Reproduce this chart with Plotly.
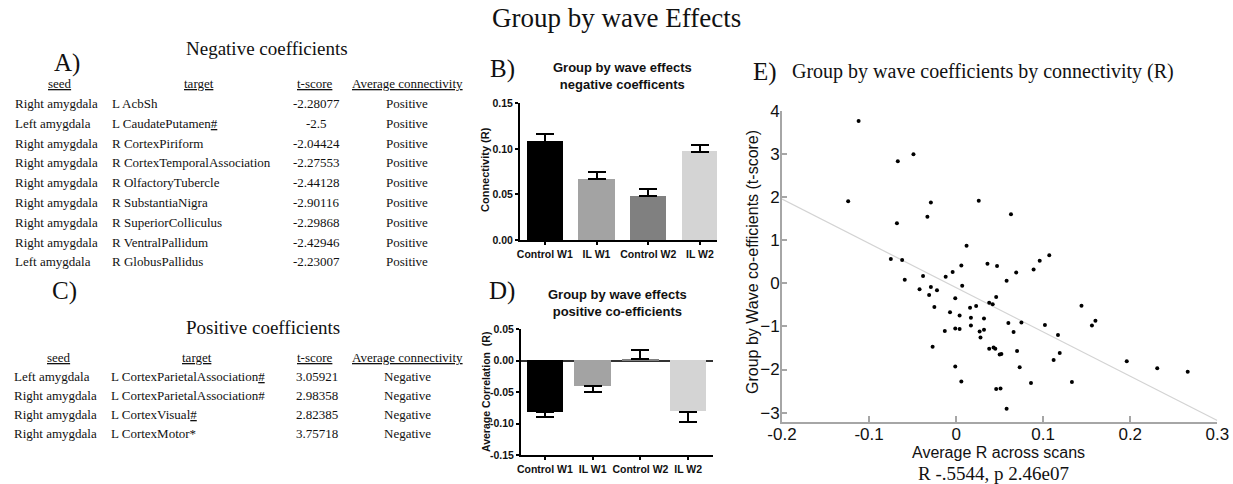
import plotly.graph_objects as go

W, H = 1233, 484
SERIF = "Liberation Serif, Times New Roman, serif"
SANS = "Liberation Sans, Arial, sans-serif"


def px(x):
    return x / W


def py(y):
    return 1 - y / H


# ---------------- data ----------------
groups = ["Control W1", "IL W1", "Control W2", "IL W2"]
neg_conn_mean = [0.108, 0.0666, 0.0483, 0.097]
neg_conn_sem = [0.0084, 0.0077, 0.0073, 0.0077]
pos_corr_mean = [-0.0822, -0.0403, 0.003, -0.0812]
pos_corr_sem = [0.0079, 0.0091, 0.0136, 0.0159]
bar_colors = ["#000000", "#a3a3a3", "#808080", "#d4d4d4"]

avg_r = [-0.124, -0.112, -0.067, -0.049, -0.068, -0.033, -0.029, 0.026, 0.063, -0.075,
         -0.062, -0.059, 0.012, -0.038, -0.012, -0.004, 0.006, 0.036, 0.047, 0.058,
         0.069, 0.089, 0.096, 0.107, 0.007, -0.042, -0.029, -0.031, -0.022, -0.025,
         -0.001, -0.007, 0.004, 0.016, 0.023, 0.017, 0.032, 0.038, 0.042, 0.046,
         0.017, -0.001, 0.004, -0.013, 0.027, 0.032, 0.028, 0.060, 0.075, 0.066,
         0.102, 0.117, 0.144, 0.156, 0.160, -0.027, 0.038, 0.043, 0.045, 0.050,
         0.052, 0.070, 0.112, 0.119, -0.001, 0.006, 0.073, 0.086, 0.133, 0.046,
         0.051, 0.058, 0.196, 0.231, 0.266]
t_score = [1.90, 3.76, 2.83, 2.99, 1.39, 1.54, 1.87, 1.91, 1.60, 0.56,
           0.54, 0.08, 0.87, 0.17, 0.15, 0.26, 0.41, 0.45, 0.40, 0.06,
           0.25, 0.32, 0.52, 0.65, -0.06, -0.14, -0.09, -0.27, -0.16, -0.55,
           -0.35, -0.67, -0.75, -0.57, -0.53, -0.80, -0.82, -0.45, -0.49, -0.32,
           -0.98, -1.05, -1.06, -1.11, -1.12, -1.08, -1.26, -0.92, -0.91, -1.13,
           -0.97, -1.20, -0.52, -0.98, -0.87, -1.47, -1.52, -1.49, -1.52, -1.65,
           -1.64, -1.57, -1.78, -1.62, -1.93, -2.28, -1.95, -2.31, -2.29, -2.45,
           -2.44, -2.91, -1.81, -1.97, -2.05]
fit_r = [-0.2, 0.3]
fit_t = [1.95, -3.18]

table_headers = ["seed", "target", "t-score", "Average connectivity"]

neg_seed = ["Right amygdala", "Left amygdala", "Right amygdala", "Right amygdala", "Right amygdala",
            "Right amygdala", "Right amygdala", "Right amygdala", "Left amygdala"]
neg_target = ["L AcbSh", "L CaudatePutamen#", "R CortexPiriform", "R CortexTemporalAssociation",
              "R OlfactoryTubercle", "R SubstantiaNigra", "R SuperiorColliculus",
              "R VentralPallidum", "R GlobusPallidus"]
neg_hash_underlined = [False, True, False, False, False, False, False, False, False]
neg_tscore = ["-2.28077", "-2.5", "-2.04424", "-2.27553", "-2.44128", "-2.90116",
              "-2.29868", "-2.42946", "-2.23007"]
neg_conn = ["Positive"] * 9

pos_seed = ["Left amygdala", "Right amygdala", "Right amygdala", "Right amygdala"]
pos_target = ["L CortexParietalAssociation#", "L CortexParietalAssociation#",
              "L CortexVisual#", "L CortexMotor*"]
pos_hash_underlined = [True, False, True, False]
pos_tscore = ["3.05921", "2.98358", "2.82385", "3.75718"]
pos_conn = ["Negative"] * 4

# ---------------- figure ----------------
fig = go.Figure()
annotations = []


def ann(text, x, y, size, family=SERIF, xanchor="center", yanchor="middle", angle=0, bold=False):
    annotations.append(dict(
        text=("<b>%s</b>" % text) if bold else text, x=px(x), y=py(y),
        xref="paper", yref="paper", showarrow=False, xanchor=xanchor, yanchor=yanchor,
        textangle=angle, font=dict(family=family, size=size, color="#111111"),
    ))


def ul(s):
    return '<span style="text-decoration:underline">%s</span>' % s


def target_text(t, flag):
    if flag and t.endswith("#"):
        return t[:-1] + ul("#")
    return t


# Main title
ann("Group by wave Effects", 616, 18, 27)

# Table A
ann("A)", 67, 63, 25)
ann("Negative coefficients", 267, 48, 19)
hdr_x = [60, 199, 315, 407]
for hx, h in zip(hdr_x, table_headers):
    ann(ul(h), hx, 84, 13)
for i in range(len(neg_seed)):
    y = 103.5 + i * 19.8
    ann(neg_seed[i], 13, y, 13, xanchor="left")
    ann(target_text(neg_target[i], neg_hash_underlined[i]), 110, y, 13, xanchor="left")
    ann(neg_tscore[i], 316, y, 13)
    ann(neg_conn[i], 407, y, 13)

# Table C
ann("C)", 64, 291, 25)
ann("Positive coefficients", 263, 327, 19)
hdr_x2 = [59, 197, 315, 407]
for hx, h in zip(hdr_x2, table_headers):
    ann(ul(h), hx, 357, 13)
for i in range(len(pos_seed)):
    y = 376 + i * 19
    ann(pos_seed[i], 12, y, 13, xanchor="left")
    ann(target_text(pos_target[i], pos_hash_underlined[i]), 109, y, 13, xanchor="left")
    ann(pos_tscore[i], 317, y, 13)
    ann(pos_conn[i], 407, y, 13)

# ---------- Panel B ----------
fig.add_trace(go.Bar(
    x=groups, y=neg_conn_mean, marker=dict(color=bar_colors, line=dict(width=0)),
    width=0.7, xaxis="x", yaxis="y",
    error_y=dict(type="data", array=neg_conn_sem, arrayminus=[0] * 4, symmetric=False,
                 color="#000000", thickness=2, width=9),
    showlegend=False,
))
ann("B)", 502, 69, 25)
ann("Group by wave effects<br>negative coefficents", 622, 76, 13, family=SANS, bold=True)
ann("Connectivity (R)", 485, 170, 11, family=SANS, angle=-90, bold=True)

# ---------- Panel D ----------
d_plus = [e if v >= 0 else 0 for v, e in zip(pos_corr_mean, pos_corr_sem)]
d_minus = [e if v < 0 else 0 for v, e in zip(pos_corr_mean, pos_corr_sem)]
fig.add_trace(go.Bar(
    x=groups, y=pos_corr_mean, marker=dict(color=bar_colors, line=dict(width=0)),
    width=0.76, xaxis="x2", yaxis="y2",
    error_y=dict(type="data", array=d_plus, arrayminus=d_minus, symmetric=False,
                 color="#000000", thickness=2, width=9),
    showlegend=False,
))
ann("D)", 502, 291, 25)
ann("Group by wave effects<br>positive co-efficients", 617, 303, 13, family=SANS, bold=True)
ann("Average Correlation  (R)", 486, 392, 10.5, family=SANS, angle=-90, bold=True)

# ---------- Panel E ----------
fig.add_trace(go.Scatter(
    x=fit_r, y=fit_t, mode="lines", line=dict(color="#d3d3d3", width=1.2),
    xaxis="x3", yaxis="y3", showlegend=False, hoverinfo="skip",
))
fig.add_trace(go.Scatter(
    x=avg_r, y=t_score, mode="markers", marker=dict(color="#000000", size=4),
    xaxis="x3", yaxis="y3", showlegend=False,
))
ann("E)", 765, 72, 25)
ann("Group by wave coefficients by connectivity (R)", 790, 72, 20, xanchor="left")
ann("Group by Wave co-efficients (t-score)", 752, 262, 16, family=SANS, angle=-90)
ann("Average R across scans", 998, 452, 16, family=SANS)
ann("R -.5544, p 2.46e07", 993, 473, 19)

bar_axis_common = dict(
    showline=True, linecolor="#000000", linewidth=2, ticks="outside", ticklen=3,
    tickwidth=1.5, tickcolor="#000000", showgrid=False, zeroline=False, automargin=False,
)
bar_xfont = dict(family=SANS, size=10.5, color="#111111")
bar_yfont = dict(family=SANS, size=10.5, color="#111111")

fig.update_layout(
    width=W, height=H, margin=dict(l=0, r=0, t=0, b=0, autoexpand=False),
    paper_bgcolor="white", plot_bgcolor="white",
    annotations=annotations,
    bargap=0,
    xaxis=dict(domain=[px(520), px(717)], anchor="y", range=[-0.48, 3.33],
               tickvals=groups, ticktext=["<b>%s</b>" % g for g in groups],
               tickfont=bar_xfont, **bar_axis_common),
    yaxis=dict(domain=[py(240), py(103.3)], anchor="x", range=[0, 0.15],
               tickvals=[0, 0.05, 0.10, 0.15],
               ticktext=["<b>0.00</b>", "<b>0.05</b>", "<b>0.10</b>", "<b>0.15</b>"],
               tickfont=bar_yfont, **bar_axis_common),
    xaxis2=dict(domain=[px(521), px(713)], anchor="y2", range=[-0.5, 3.52],
                tickvals=groups, ticktext=["<b>%s</b>" % g for g in groups],
                tickfont=bar_xfont, **bar_axis_common),
    yaxis2=dict(domain=[py(455), py(329.3)], anchor="x2", range=[-0.15, 0.05],
                tickvals=[-0.15, -0.10, -0.05, 0.0, 0.05],
                ticktext=["<b>-0.15</b>", "<b>-0.10</b>", "<b>-0.05</b>", "<b>0.00</b>", "<b>0.05</b>"],
                showline=True, linecolor="#000000", linewidth=2, ticks="outside", ticklen=3,
                tickwidth=1.5, tickcolor="#000000", showgrid=False, automargin=False,
                zeroline=True, zerolinecolor="#333333", zerolinewidth=2,
                tickfont=bar_yfont),
    xaxis3=dict(domain=[px(782), px(1217.3)], anchor="y3", range=[-0.2, 0.3],
                tickvals=[-0.2, -0.1, 0, 0.1, 0.2, 0.3], ticktext=["-0.2", "-0.1", "0", "0.1", "0.2", "0.3"],
                showline=True, linecolor="#a6a6a6", linewidth=2, ticks="inside", ticklen=6,
                tickcolor="#a6a6a6", tickwidth=1.5, showgrid=False, zeroline=False, automargin=False,
                ticklabelstandoff=-4,
                tickfont=dict(family=SANS, size=17, color="#111111")),
    yaxis3=dict(domain=[py(421.7), py(110.7)], anchor="x3", range=[-3.21, 4],
                tickvals=[-3, -2, -1, 0, 1, 2, 3, 4],
                showline=True, linecolor="#a6a6a6", linewidth=2, ticks="inside", ticklen=5,
                tickcolor="#a6a6a6", tickwidth=1.5, showgrid=False, zeroline=False, automargin=False,
                ticklabelstandoff=-3,
                tickfont=dict(family=SANS, size=17, color="#111111")),
)

fig.write_html("out.html")
